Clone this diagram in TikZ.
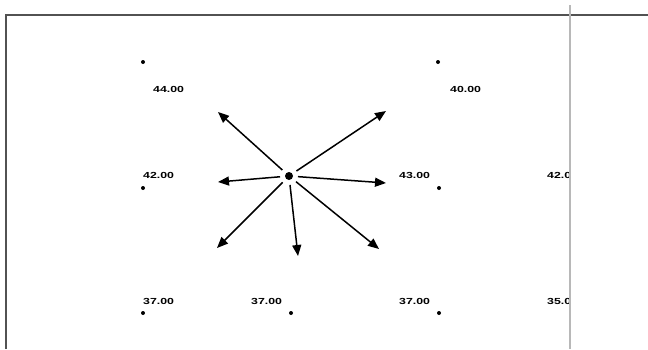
\documentclass[tikz,border=0pt]{standalone}
\usepackage{fontspec}
\setmainfont{Liberation Sans}
\usetikzlibrary{arrows.meta}
\newcommand\sxlab[1]{\scalebox{1.4}[1]{#1}}
\begin{document}
\begin{tikzpicture}[x=1pt,y=-1pt,
  frameline/.style={draw=black!68,line width=2.2pt},
  gridline/.style={draw=black!28,line width=2pt},
  smalldot/.style={circle,fill=black,inner sep=0pt,minimum size=4pt},
  bigdot/.style={circle,fill=black,inner sep=0pt,minimum size=8pt},
  lab/.style={anchor=west,inner sep=0pt,font=\bfseries\fontsize{8.8}{10}\selectfont},
  vec/.style={line width=1.5pt,-{Triangle[length=11pt,width=9pt]},shorten <=9pt}]
\useasboundingbox (0,0) rectangle (648,349);
\fill[white] (0,0) rectangle (648,349);
% frame
\coordinate (fbl) at (6,349);
\coordinate (ftl) at (6,15);
\coordinate (ftr) at (648,15);
\draw[frameline] (fbl) -- (ftl) -- (ftr);
% dots
\node[smalldot] (d1) at (143,62) {};
\node[smalldot] (d2) at (438,62) {};
\node[smalldot] (d3) at (143,188) {};
\node[smalldot] (d4) at (439,188) {};
\node[smalldot] (d5) at (143,313) {};
\node[smalldot] (d6) at (291,313) {};
\node[smalldot] (d7) at (439,313) {};
\node[bigdot] (c) at (289,176) {};
% labels
\node[lab] (l1) at (153,89) {\sxlab{44.00}};
\node[lab] (l2) at (450,89) {\sxlab{40.00}};
\node[lab] (l3) at (143,175) {\sxlab{42.00}};
\node[lab] (l4) at (399,175) {\sxlab{43.00}};
\node[lab] (l5) at (547,175) {\sxlab{42.0}};
\node[lab] (l6) at (143,301) {\sxlab{37.00}};
\node[lab] (l7) at (251,301) {\sxlab{37.00}};
\node[lab] (l8) at (399,301) {\sxlab{37.00}};
\node[lab] (l9) at (547,301) {\sxlab{35.0}};
% vertical grid line
\coordinate (vt) at (570,5);
\coordinate (vb) at (570,349);
\draw[gridline] (vt) -- (vb);
% arrow ends
\coordinate (aul) at (218,112);
\coordinate (aur) at (386,111);
\coordinate (al) at (218,182);
\coordinate (ar) at (386,183);
\coordinate (all) at (217,248);
\coordinate (ad) at (298,256);
\coordinate (alr) at (379,249);
\foreach \t in {aul,aur,al,ar,all,ad,alr}
  \draw[vec] (c.center) -- (\t);
\end{tikzpicture}
\end{document}
